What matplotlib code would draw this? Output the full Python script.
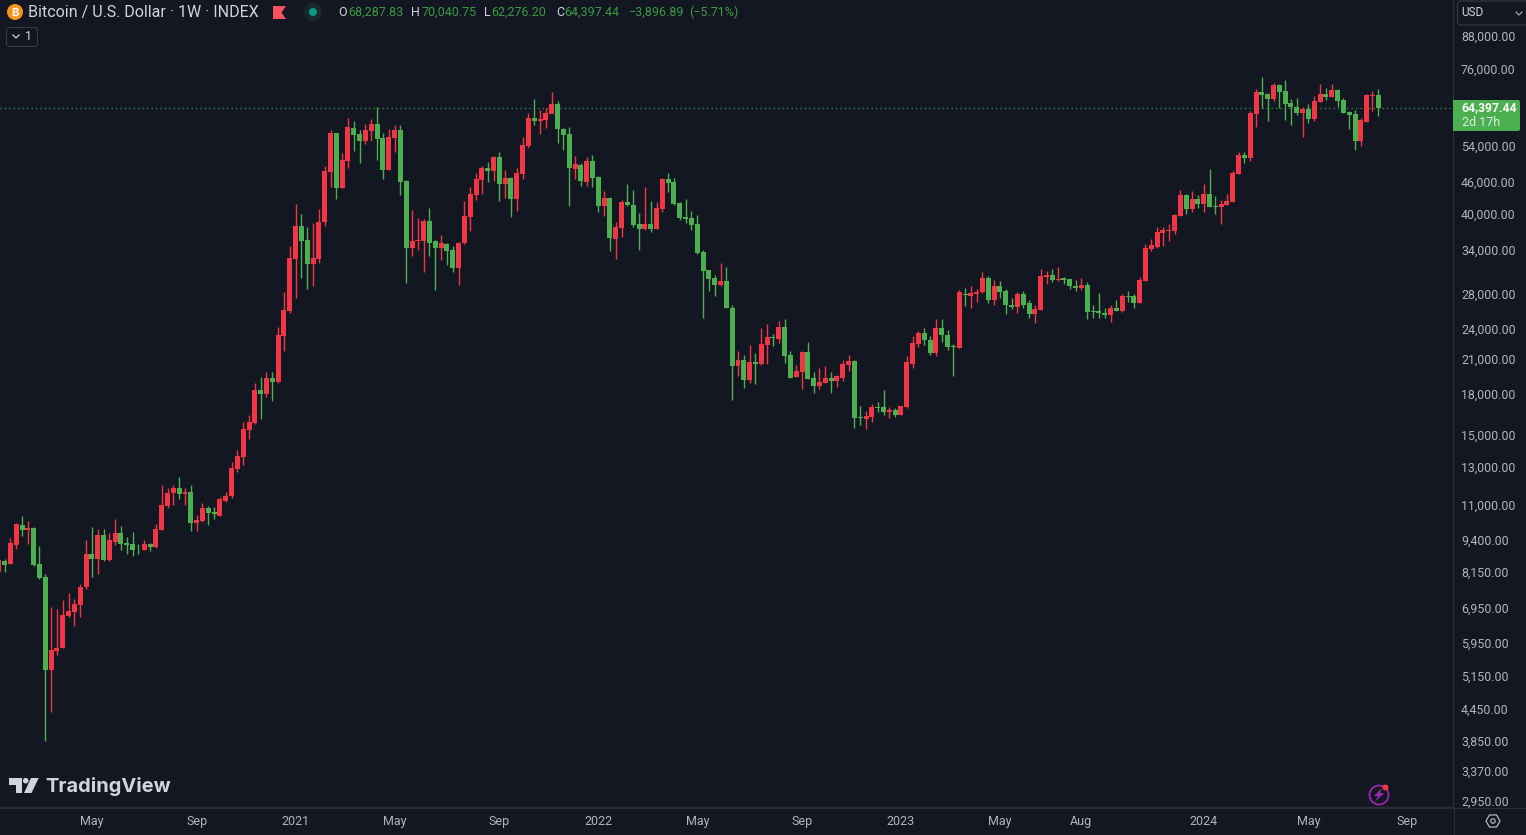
import numpy as np
import pandas as pd
import matplotlib
matplotlib.use('Agg')
import matplotlib.pyplot as plt
import matplotlib.dates as mdates
from matplotlib.patches import Circle, Polygon, FancyBboxPatch, RegularPolygon, Rectangle
from matplotlib.transforms import ScaledTranslation

bg = '#131722'
up_col = '#F23645'
down_col = '#4CAF50'
txt_col = '#B2B5BE'
line_col = '#2A2E39'

first_week = '2020-01-13'

opens = [
    8230, 8630, 8540, 9270, 10150, 9900, 10020, 8530, 8030, 5330,
    5800, 5880, 6760, 6900, 7100, 7700, 8900, 8700, 9680, 8680,
    9390, 9780, 9350, 9310, 9120, 9080, 9300, 9190, 9910, 11010,
    11660, 11950, 11620, 11720, 10220, 10310, 10920, 10730, 10560, 11270,
    11500, 12990, 13700, 15445, 15930, 18450, 18120, 19460, 19100, 23440,
    26190, 33000, 38200, 35900, 32280, 33000, 38880, 48540, 57700, 45200,
    51000, 59000, 57400, 55700, 58200, 60000, 56400, 48980, 56500, 58500,
    46600, 34650, 35800, 35750, 39050, 35700, 34700, 35300, 34300, 31700,
    35350, 39700, 43800, 46850, 49400, 48760, 51900, 46030, 47250, 43050,
    48100, 54450, 61700, 60900, 61150, 62780, 65660, 58750, 57400, 49200,
    50100, 46440, 51000, 47500, 41750, 43250, 36000, 37800, 42500, 41950,
    38550, 37700, 38550, 37700, 41200, 47060, 46440, 42300, 39800, 39580,
    38550, 34100, 31420, 30300, 29360, 29920, 26550, 20500, 21070, 19280,
    20900, 20700, 22530, 23340, 23130, 24400, 21550, 19550, 19980, 21830,
    19460, 18790, 19030, 19460, 19190, 19500, 20620, 20980, 16380, 16230,
    16400, 17100, 17100, 16720, 16880, 16540, 17100, 20750, 22600, 23800,
    23000, 21750, 24300, 23600, 22450, 22250, 28300, 28000, 28300, 28450,
    30320, 27500, 29270, 28620, 26900, 26650, 28200, 27100, 25830, 26300,
    30450, 30730, 30060, 30300, 30200, 29300, 29000, 29400, 26200, 26150,
    25950, 25720, 26550, 26150, 28000, 28000, 27150, 29900, 34500, 34850,
    37000, 37400, 37350, 39950, 43850, 41200, 43060, 42100, 44050, 41700,
    41570, 41900, 42500, 48100, 52300, 51650, 62800, 69300, 68600, 67100,
    71450, 69500, 65950, 64800, 63100, 64200, 61500, 66250, 68600, 67700,
    69850, 66800, 63350, 62800, 55700, 60600, 67900, 68287.83,
]
highs = [
    8750, 8710, 9570, 10230, 10550, 10310, 10060, 9220, 8170, 7050,
    6980, 7263, 7500, 7300, 7810, 9480, 10050, 9950, 9950, 9800,
    10400, 10090, 9600, 9830, 9310, 9480, 9360, 10180, 12120, 11950,
    12120, 12550, 11950, 12100, 10590, 11150, 11030, 10960, 11480, 11730,
    13400, 14133, 16000, 16510, 19030, 19520, 19990, 19950, 24395, 28500,
    34950, 42130, 40300, 38030, 38720, 41190, 49960, 58500, 57750, 52800,
    61700, 60900, 58500, 60200, 61500, 64800, 57700, 58750, 59700, 59700,
    46850, 41000, 39600, 39400, 41400, 35900, 36700, 35400, 34900, 35550,
    42700, 45500, 48350, 49900, 50700, 52100, 53000, 48980, 47500, 49400,
    56700, 63080, 67100, 63900, 64500, 69250, 66500, 59000, 59200, 52100,
    50500, 51900, 52300, 47700, 44650, 43450, 38900, 42870, 46000, 44800,
    40480, 45500, 42650, 42500, 47300, 48350, 47300, 42500, 43050, 40820,
    40100, 34340, 31450, 30730, 32400, 31830, 26900, 21930, 21550, 22530,
    21740, 24300, 24730, 23650, 25050, 25280, 21930, 20600, 21950, 22800,
    19970, 20340, 20520, 19970, 19720, 21070, 21550, 21070, 17180, 16800,
    17340, 17490, 18450, 17100, 17000, 17200, 21440, 23450, 24000, 24300,
    23450, 25280, 25280, 24080, 22650, 28800, 29010, 29270, 28880, 31150,
    30600, 30050, 29900, 28880, 27700, 28500, 28650, 27500, 26900, 31550,
    31280, 31550, 31830, 30480, 30250, 30060, 30320, 29800, 26900, 28350,
    26550, 26900, 27500, 28200, 28620, 28200, 30480, 35300, 36060, 38000,
    38000, 38550, 40280, 44820, 44000, 44620, 43850, 46030, 49200, 43650,
    42870, 44050, 48750, 53000, 52950, 63650, 70150, 74000, 69000, 72000,
    71900, 73000, 67100, 67400, 64800, 65700, 67900, 71900, 70600, 71900,
    70300, 67300, 63650, 63900, 61700, 68650, 69500, 70040.75,
]
lows = [
    8160, 8240, 8530, 9120, 9650, 9310, 8430, 7990, 3890, 4420,
    5690, 5870, 6740, 6470, 6750, 7620, 8050, 8170, 8650, 8640,
    9280, 9070, 8900, 8830, 8900, 9060, 9030, 9140, 9900, 10950,
    11090, 11380, 11090, 9880, 9870, 10260, 10130, 10410, 10560, 11210,
    11430, 12830, 13220, 14840, 15860, 16220, 17880, 17570, 19030, 21930,
    25960, 27750, 30320, 28880, 29280, 32420, 38200, 45450, 43060, 45150,
    49400, 53290, 50520, 55000, 55700, 51200, 47060, 48900, 53050, 43860,
    29670, 33430, 34340, 31150, 33430, 28750, 32850, 32100, 31150, 29400,
    35300, 37350, 42870, 44050, 46440, 46650, 42700, 43300, 39780, 40820,
    47060, 54000, 59700, 57400, 59000, 63100, 55200, 53500, 41740, 47060,
    45600, 45600, 45400, 40650, 40000, 34200, 33000, 36350, 41700, 38000,
    34400, 37500, 37150, 37650, 40650, 44400, 41900, 39230, 38700, 37500,
    33700, 25400, 28620, 28000, 29300, 26500, 17650, 19630, 18610, 19030,
    18920, 20650, 20700, 22420, 22730, 20800, 19440, 19530, 18530, 19350,
    18200, 18530, 19000, 18200, 18700, 19190, 20070, 15590, 15800, 15500,
    16000, 16710, 16530, 16300, 16380, 16530, 17060, 20300, 22300, 22500,
    21540, 21440, 22800, 22030, 19630, 22200, 26780, 26550, 27260, 28400,
    27140, 26900, 27700, 25840, 26420, 25950, 26550, 25400, 24830, 26300,
    29520, 29800, 29950, 29520, 28880, 28620, 28750, 25280, 25400, 25400,
    25400, 24950, 26150, 26050, 27260, 26550, 27100, 29870, 34150, 34650,
    34970, 35740, 36800, 39950, 40280, 40650, 41380, 40650, 41500, 40280,
    38550, 41900, 42450, 48100, 50500, 50950, 59300, 64500, 60900, 66500,
    64500, 61150, 59700, 62500, 56700, 60400, 60950, 66200, 66800, 67700,
    64900, 63050, 58750, 53500, 54450, 60500, 63700, 62276.20,
]
closes = [
    8674, 8470, 9360, 10170, 9910, 9990, 8490, 8000, 5323, 5820,
    5870, 6790, 6915, 7130, 7690, 8900, 8700, 9680, 8670, 9480,
    9780, 9310, 9270, 9070, 9100, 9310, 9190, 9950, 11070, 11670,
    11950, 11620, 11730, 10220, 10360, 10930, 10700, 10620, 11370, 11520,
    13050, 13760, 15510, 16000, 18446, 18120, 19460, 19110, 23540, 26309,
    33140, 38200, 35740, 32280, 33140, 38880, 48760, 57700, 45200, 51200,
    59260, 57200, 55700, 58500, 60000, 56200, 48980, 56700, 58500, 46440,
    34650, 35740, 35950, 39050, 35500, 34700, 35350, 34150, 31700, 35500,
    39950, 44050, 47050, 49400, 48760, 51900, 46030, 47250, 43050, 48350,
    54700, 61700, 60900, 61500, 63080, 65660, 58750, 57200, 49400, 50300,
    46650, 51000, 47250, 41750, 43250, 36200, 38000, 42500, 41900, 38350,
    37700, 38550, 37700, 41380, 47060, 46250, 42100, 39580, 39400, 38350,
    33900, 31280, 30200, 29360, 29920, 26550, 20500, 21070, 19280, 20900,
    20750, 22640, 23340, 23240, 24400, 21440, 19460, 20070, 21830, 19370,
    18790, 19110, 19460, 19190, 19630, 20710, 20980, 16300, 16300, 16460,
    17100, 17040, 16720, 16880, 16540, 17170, 20900, 22700, 23800, 23000,
    21750, 24300, 23550, 22300, 22300, 28450, 28150, 28400, 28500, 30320,
    27500, 29270, 28500, 26900, 26650, 28200, 26870, 25830, 26430, 30600,
    30730, 30060, 30200, 30060, 29300, 29000, 29400, 26080, 26080, 25950,
    25720, 26550, 26200, 28000, 27900, 27150, 30060, 34650, 35150, 37150,
    37500, 37520, 40050, 43850, 41200, 43060, 42100, 44050, 41570, 41570,
    42100, 42700, 48350, 52300, 51650, 63000, 69300, 68400, 67100, 71450,
    69300, 65700, 64700, 63100, 64200, 61500, 66500, 68600, 67700, 69850,
    66500, 63100, 62500, 55700, 61150, 68400, 68294.33, 64397.44,
]

y_ticks = [88000, 76000, 54000, 46000, 40000, 34000, 28000, 24000, 21000, 18000,
           15000, 13000, 11000, 9400, 8150, 6950, 5950, 5150, 4450, 3850, 3370, 2950]
x_tick_dates = ['2020-05-04', '2020-09-07', '2021-01-04', '2021-05-03', '2021-09-06',
                '2022-01-03', '2022-05-02', '2022-09-05', '2023-01-02', '2023-05-01',
                '2023-08-07', '2024-01-01', '2024-05-06', '2024-09-02']
x_tick_labels = ['May', 'Sep', '2021', 'May', 'Sep', '2022', 'May', 'Sep', '2023', 'May',
                 'Aug', '2024', 'May', 'Sep']

plt.rcParams['font.family'] = ['Roboto', 'DejaVu Sans']

fig = plt.figure(figsize=(15.26, 8.35), dpi=100, facecolor=bg)
ax = fig.add_axes([0, 28 / 835, 1453 / 1526, 807 / 835], facecolor=bg)

opens = np.array(opens)
highs = np.array(highs)
lows = np.array(lows)
closes = np.array(closes)
n = min(len(opens), len(highs), len(lows), len(closes))
weeks = mdates.date2num(pd.date_range(first_week, periods=n, freq='7D'))
cols = [up_col if closes[i] >= opens[i] else down_col for i in range(n)]

ax.set_yscale('log')
ax.vlines(weeks, lows[:n], highs[:n], colors=cols, lw=1.0, zorder=2)
body_lo = np.minimum(opens[:n], closes[:n])
body_hi = np.maximum(opens[:n], closes[:n])
ax.bar(weeks, body_hi - body_lo, bottom=body_lo, width=6.0, color=cols, lw=0, zorder=3)
ax.axhline(closes[n - 1], color=down_col, ls=(0, (1, 3)), lw=0.8, zorder=1)

# axis scale taken from the price ticks: 225.3 px per e-fold
ax.set_ylim(88000 * np.exp(-769 / 225.3), 88000 * np.exp(38 / 225.3))
anchor = mdates.date2num(pd.Timestamp('2020-03-09'))
px_day = 5.821 / 7
ax.set_xlim(anchor - 45.3 / px_day, anchor + (1453 - 45.3) / px_day)

ax.set_yticks(y_ticks)
ax.set_yticklabels([f'{v:,.2f}' for v in y_ticks])
ax.minorticks_off()
ax.yaxis.tick_right()
ax.tick_params(axis='y', length=0, pad=5.8, labelsize=8.9, labelcolor=txt_col, which='both')
shift = ScaledTranslation(0, 2 / 72 * 0.72, fig.dpi_scale_trans)
for lab in ax.get_yticklabels():
    lab.set_transform(lab.get_transform() + shift)
ax.set_xticks(mdates.date2num(pd.to_datetime(x_tick_dates)))
ax.set_xticklabels(x_tick_labels)
ax.tick_params(axis='x', length=0, pad=5.8, labelsize=9, labelcolor=txt_col)
for s in ['top', 'left']:
    ax.spines[s].set_visible(False)
ax.spines['right'].set_color(line_col)
ax.spines['bottom'].set_color(line_col)
ax.spines['right'].set_linewidth(1)
ax.spines['bottom'].set_linewidth(1)

# pixel overlay for the header, logo and small icons
ov = fig.add_axes([0, 0, 1, 1], facecolor='none')
ov.set_xlim(0, 1526)
ov.set_ylim(835, 0)
ov.axis('off')

ov.plot([0, 1526], [807.5, 807.5], color=line_col, lw=0.8)
ov.plot([1453.5, 1453.5], [807, 835], color=line_col, lw=0.8)

head = '#D1D4DC'
ov.add_patch(Circle((15, 12), 8, color='#F7931A', lw=0))
ov.text(15, 12.3, '₿', color='white', fontsize=8, ha='center', va='center',
        family=['Inter', 'Noto Sans', 'Open Sans', 'Lato', 'DejaVu Sans'], weight='bold')
ov.text(28, 12.5, 'Bitcoin / U.S. Dollar · 1W · INDEX', color=head, fontsize=11.55, va='center')
ov.add_patch(Polygon([(273, 6), (286, 6), (281.5, 12.5), (286, 19), (273, 19)], color='#F7525F', lw=0))
ov.add_patch(Circle((313, 12), 9, color='#16292F', lw=0))
ov.add_patch(Circle((313, 12), 4, color='#089981', lw=0))

hl = '#3D9A42'
for x, s, c in [(338, 'O', head), (348.5, '68,287.83', hl), (411.5, 'H', head), (421, '70,040.75', hl),
                (484.3, 'L', head), (491.7, '62,276.20', hl), (555.8, 'C', head), (564.5, '64,397.44', hl),
                (628.6, '−3,896.89', hl), (689, '(−5.71%)', hl)]:
    ov.text(x, 12.5, s, color=c, fontsize=9, va='center')

ov.add_patch(FancyBboxPatch((6.5, 27.5), 31, 19, boxstyle='round,pad=0,rounding_size=3', fc=bg, ec='#363A45', lw=0.8))
ov.plot([13, 16, 19], [35, 38, 35], color=head, lw=0.9)
ov.text(29, 36.5, '1', color=head, fontsize=9, ha='center', va='center')

ov.add_patch(FancyBboxPatch((1457.5, 1), 72, 24, boxstyle='round,pad=0,rounding_size=3', fc=bg, ec='#363A45', lw=0.8))
ov.text(1461, 13, 'USD', color=head, fontsize=8.5, va='center')
ov.plot([1516, 1519, 1522], [12, 15, 12], color=txt_col, lw=0.8)

ov.add_patch(FancyBboxPatch((1453, 100), 67, 31, boxstyle='round,pad=0,rounding_size=2', fc=down_col, ec='none'))
ov.add_patch(Rectangle((1453, 100), 4, 31, fc=down_col, ec='none'))
ov.text(1461.5, 108, f'{closes[n - 1]:,.2f}', color='white', fontsize=8.7, weight='bold', va='center')
ov.text(1461.5, 122, '2d 17h', color='#DCEFDD', fontsize=9, va='center')

logo = '#D1D4DC'
ov.add_patch(Polygon([(9, 778), (22, 778), (22, 793), (15.7, 793), (15.7, 784.7), (9, 784.7)], color=logo, lw=0))
ov.add_patch(Circle((25.7, 780.7), 2.8, color=logo, lw=0))
ov.add_patch(Polygon([(31, 778), (38.7, 778), (31.5, 793), (24, 793)], color=logo, lw=0))
ov.text(45.5, 787, 'TradingView', color=logo, fontsize=14.4, weight='bold', family='Inter', va='center')

ov.add_patch(Circle((1379, 795), 9.5, fc='none', ec='#9C27B0', lw=1.3))
ov.add_patch(Polygon([(1382, 788), (1374, 796), (1378, 796), (1375, 802), (1384, 793), (1380, 793)], color='#9C27B0', lw=0))
ov.add_patch(Circle((1385.5, 787.5), 3, color='#F23645', lw=0))
ov.add_patch(RegularPolygon((1493, 821), 6, radius=7, orientation=np.pi / 6, fc='none', ec=txt_col, lw=0.9))
ov.add_patch(Circle((1493, 821), 2.2, fc='none', ec=txt_col, lw=0.9))

fig.savefig('out.png', dpi=100, facecolor=bg)
